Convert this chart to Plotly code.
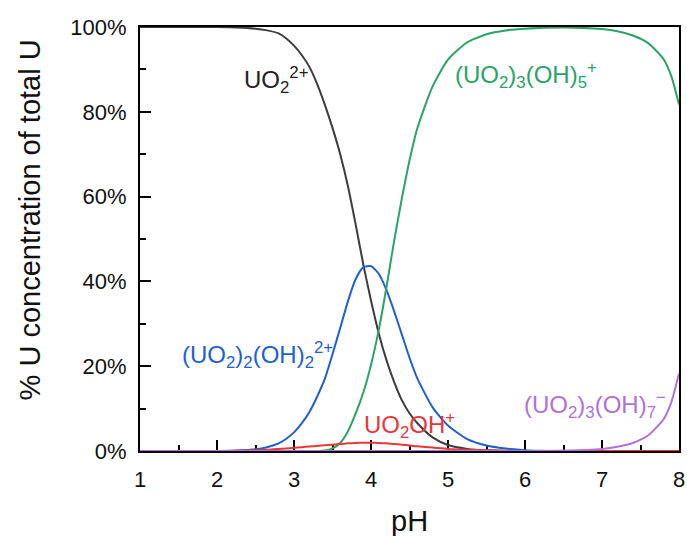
import plotly.graph_objects as go

# pH grid shared by all species
pH = [1, 1.5, 2, 2.25, 2.5, 2.65, 2.8, 2.9, 3.0, 3.1, 3.2, 3.3, 3.4, 3.5, 3.6, 3.7,
      3.8, 3.9, 4.0, 4.1, 4.2, 4.3, 4.4, 4.5, 4.6, 4.8, 5.0, 5.25, 5.5, 5.75, 6,
      6.5, 7, 7.2, 7.4, 7.6, 7.8, 7.9, 8]

uo2 = [100, 100, 100, 99.9, 99.6, 99.2, 98.5, 97.3, 95.6, 93.4, 90.6, 86.6, 81.7,
       76.2, 70.0, 62.5, 53.5, 44.0, 35.5, 27.8, 21.5, 16.3, 12.0, 8.9, 6.6, 3.2,
       1.4, 0.5, 0.15, 0.05, 0, 0, 0, 0, 0, 0, 0, 0, 0]
uo2_2oh2 = [0, 0, 0, 0.1, 0.4, 0.9, 1.8, 2.9, 4.4, 6.5, 9.2, 12.8, 17.0, 22.8,
            29.0, 35.3, 40.5, 43.3, 43.6, 41.8, 38.0, 33.0, 27.5, 22.0, 17.2, 10.3,
            6.0, 2.8, 1.3, 0.6, 0.2, 0, 0, 0, 0, 0, 0, 0, 0]
uo2_3oh5 = [0, 0, 0, 0, 0, 0, 0, 0, 0, 0, 0, 0, 0.1, 0.6, 1.9, 4.6, 8.8, 13.8,
            20.3, 28.5, 38.5, 49.5, 59.5, 68.5, 76.0, 86.0, 92.3, 96.4, 98.3, 99.2,
            99.6, 99.9, 99.5, 99.0, 98.0, 96.2, 92.4, 88.4, 81.7]
uo2oh = [0, 0, 0, 0.05, 0.2, 0.3, 0.5, 0.6, 0.75, 0.9, 1.05, 1.2, 1.35, 1.5, 1.65,
         1.8, 1.9, 1.95, 1.95, 1.9, 1.8, 1.65, 1.5, 1.3, 1.1, 0.8, 0.5, 0.3, 0.15,
         0.05, 0, 0, 0, 0, 0, 0, 0, 0, 0]
uo2_3oh7 = [0, 0, 0, 0, 0, 0, 0, 0, 0, 0, 0, 0, 0, 0, 0, 0, 0, 0, 0, 0, 0, 0, 0,
            0, 0, 0, 0, 0, 0, 0, 0, 0.1, 0.5, 1.0, 1.9, 3.7, 7.5, 11.5, 18.3]

x_ticks = [1, 2, 3, 4, 5, 6, 7, 8]
x_ticktext = ["1", "2", "3", "4", "5", "6", "7", "8"]
y_ticks = [0, 20, 40, 60, 80, 100]
y_ticktext = ["0%", "20%", "40%", "60%", "80%", "100%"]

series = [
    (uo2, "#3c3c3c"),
    (uo2_2oh2, "#1f5fd0"),
    (uo2_3oh5, "#27a466"),
    (uo2oh, "#e8363b"),
    (uo2_3oh7, "#b070dc"),
]

FONT = "Liberation Sans, Arial, sans-serif"
TICKFONT = dict(family=FONT, size=22, color="#111111")

fig = go.Figure()
for vals, col in series:
    fig.add_trace(go.Scatter(x=pH, y=vals, mode="lines",
                             line=dict(color=col, width=2, shape="spline", smoothing=0.6),
                             showlegend=False, hoverinfo="skip"))

labels = [
    (2.33, 87.5, "UO<sub>2</sub><sup>2+</sup>", "#222222"),
    (5.06, 88.7, "(UO<sub>2</sub>)<sub>3</sub>(OH)<sub>5</sub><sup>+</sup>", "#27a466"),
    (1.52, 22.6, "(UO<sub>2</sub>)<sub>2</sub>(OH)<sub>2</sub><sup>2+</sup>", "#1f5fd0"),
    (3.88, 6.1, "UO<sub>2</sub>OH<sup>+</sup>", "#e8363b"),
    (5.96, 10.8, "(UO<sub>2</sub>)<sub>3</sub>(OH)<sub>7</sub><sup>−</sup>", "#b070dc"),
]
for lx, ly, txt, col in labels:
    fig.add_annotation(x=lx, y=ly, text=txt, showarrow=False, xanchor="left",
                       yanchor="middle", font=dict(family=FONT, size=24, color=col))

fig.add_annotation(xref="paper", yref="paper", x=-0.205, y=0.545,
                   text="% U concentration of total U", textangle=-90,
                   showarrow=False, xanchor="center", yanchor="middle",
                   font=dict(family=FONT, size=29, color="#111111"))
fig.add_annotation(xref="paper", yref="paper", x=0.5, y=-0.165,
                   text="pH", showarrow=False, xanchor="center", yanchor="middle",
                   font=dict(family=FONT, size=29, color="#111111"))

fig.update_xaxes(range=[1, 8], tickmode="array", tickvals=x_ticks, ticktext=x_ticktext,
                 tickfont=TICKFONT, ticklen=11, ticks="inside", tickwidth=2,
                 tickcolor="black", showline=True, linecolor="black", linewidth=2,
                 mirror=True, showgrid=False, zeroline=False, layer="below traces",
                 ticklabelstandoff=8, automargin=False,
                 minor=dict(dtick=0.5, tick0=1, ticks="inside", ticklen=6,
                            tickwidth=2, tickcolor="black", showgrid=False))
fig.update_yaxes(range=[0, 100], tickmode="array", tickvals=y_ticks, ticktext=y_ticktext,
                 tickfont=TICKFONT, ticklen=11, ticks="inside", tickwidth=2,
                 tickcolor="black", showline=True, linecolor="black", linewidth=2,
                 mirror=True, showgrid=False, zeroline=False, layer="below traces",
                 ticklabelstandoff=7, automargin=False,
                 minor=dict(dtick=10, tick0=0, ticks="inside", ticklen=6,
                            tickwidth=2, tickcolor="black", showgrid=False))

fig.update_layout(width=687, height=536,
                  margin=dict(l=140, r=8, t=27, b=85),
                  plot_bgcolor="white", paper_bgcolor="white",
                  font=dict(family=FONT))

fig.write_html("out.html")
